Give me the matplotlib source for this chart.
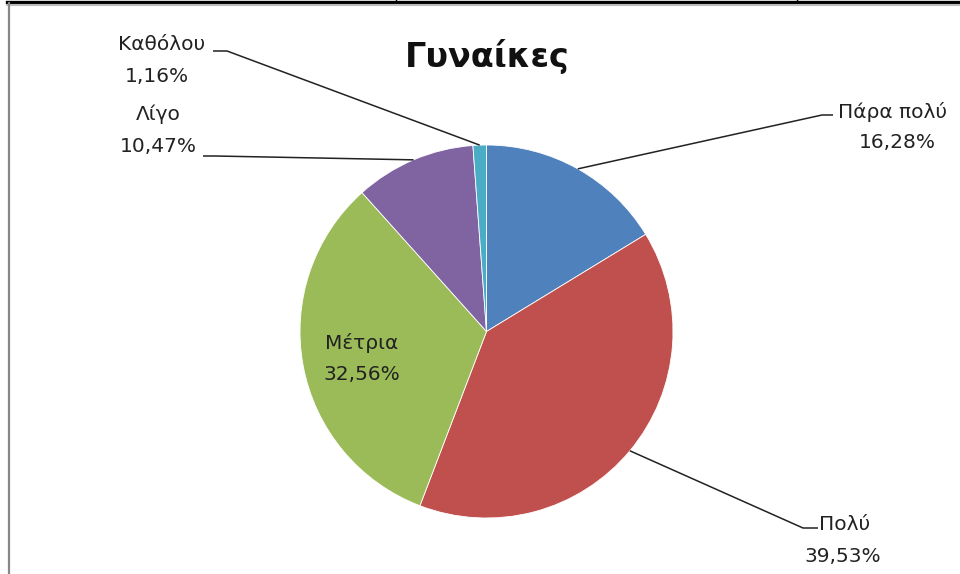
import numpy as np
import matplotlib
matplotlib.use('Agg')
import matplotlib.pyplot as plt

##################################################################################
# Data
##################################################################################
TITLE = 'Γυναίκες'
LABELS = ['Πάρα πολύ', 'Πολύ', 'Μέτρια', 'Λίγο', 'Καθόλου']
VALUES = [16.28, 39.53, 32.56, 10.47, 1.16]
COLORS = ['#4F81BD', '#C0504D', '#9BBB59', '#8064A2', '#4BACC6']

##################################################################################
# Layout (pixel coordinates, y down)
##################################################################################
CX, CY, RAD = 486.5, 331.5, 186.5
FS = 14.5

# name anchor, percent anchor, leader elbow, leader end (None = inside slice)
LAB_POS = {
    'Πάρα πολύ': ((892, 112), (897, 143), (822, 115), (833, 115)),
    'Πολύ':      ((845, 525), (843, 556), (803, 528), (818, 528)),
    'Μέτρια':    ((362, 343), (362, 375), None, None),
    'Λίγο':      ((158, 114), (158, 147), (215, 156), (203, 156)),
    'Καθόλου':   ((162, 45), (157, 77), (227, 51), (213, 51)),
}

def pct(v):
    return ('%.2f' % v).replace('.', ',') + '%'

fig = plt.figure(figsize=(9.6, 5.74), dpi=100)
ax = fig.add_axes([0, 0, 1, 1])

wedges, _ = ax.pie(VALUES, colors=COLORS, startangle=-90, counterclock=True,
                   center=(CX, CY), radius=RAD,
                   wedgeprops=dict(linewidth=0.6, edgecolor='white'))
ax.set_xlim(0, 960)
ax.set_ylim(574, 0)
ax.set_aspect('auto')
ax.axis('off')

for w, lab, val in zip(wedges, LABELS, VALUES):
    p_name, p_pct, elbow, end = LAB_POS[lab]
    ax.text(p_name[0], p_name[1], lab, ha='center', va='center', fontsize=FS,
            color='#222222')
    ax.text(p_pct[0], p_pct[1], pct(val), ha='center', va='center',
            fontsize=FS, color='#222222')
    if elbow is not None:
        mid = np.deg2rad((w.theta1 + w.theta2) / 2.0)
        ex = CX + RAD * np.cos(mid)
        ey = CY + RAD * np.sin(mid)
        ax.plot([ex, elbow[0], end[0]], [ey, elbow[1], end[1]],
                color='#222222', lw=1.1, solid_capstyle='butt')

ax.text(487, 57, TITLE, ha='center', va='center', fontsize=24,
        fontweight='bold', color='#111111')

# frame remnants of the surrounding document
ax.plot([7, 960], [1.5, 1.5], color='black', lw=2.4, clip_on=False)
ax.plot([7, 960], [4.5, 4.5], color='#bbbbbb', lw=1.5, clip_on=False)
ax.plot([8.5, 8.5], [3, 574], color='#888888', lw=1.6, clip_on=False)
for x in (396, 797):
    ax.plot([x, x], [0, 2], color='black', lw=1.0)

fig.savefig('out.png', dpi=100)
